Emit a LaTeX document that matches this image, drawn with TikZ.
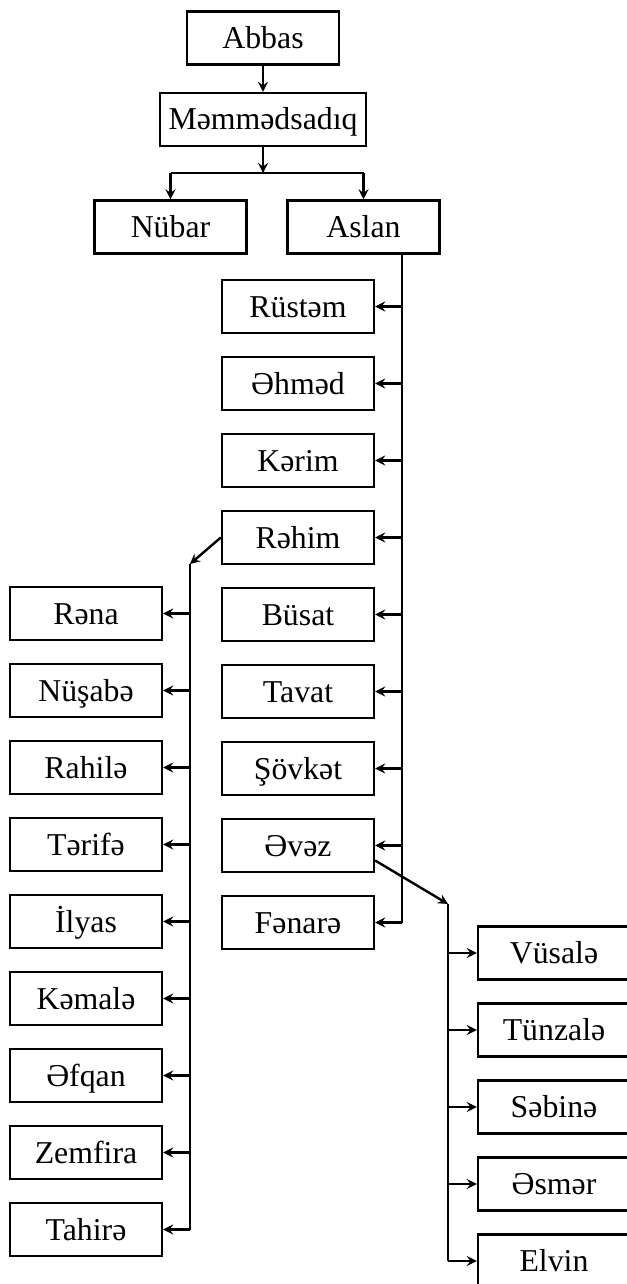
\documentclass[tikz,border=0pt]{standalone}
\usepackage{fontspec}
\setmainfont{Liberation Serif}

\begin{document}
\begin{tikzpicture}[>=stealth, x=0.5pt, y=-0.5pt, line width=1.2pt,
  person/.style={draw, line width=1.2pt, minimum width=76pt, minimum height=26.5pt,
    inner sep=0pt, text height=10.5pt, text depth=0pt,
    font=\fontsize{15.9}{18}\selectfont}]
\useasboundingbox (0,0) rectangle (626,1284);
% top of the tree
\node[person] (abbas) at (263,38) {Abbas};
\node[person, minimum width=103pt] (mammad) at (263,119.5) {Məmmədsadıq};
\node[person] (nubar) at (170.5,227) {Nübar};
\node[person] (aslan) at (363.5,227) {Aslan};
\draw[->] (abbas) -- (mammad);
\coordinate (jm) at (263,173);
\draw[->] (mammad) -- (jm);
\draw (nubar.north |- jm) -- (aslan.north |- jm);
\draw[->] (nubar.north |- jm) -- (nubar.north);
\draw[->] (aslan.north |- jm) -- (aslan.north);
% children of Aslan
\node[person] (rustam) at (298,306.5) {Rüstəm};
\node[person] (ahmad) at (298,383.5) {Əhməd};
\node[person] (karim) at (298,460.5) {Kərim};
\node[person] (rahim) at (298,537.5) {Rəhim};
\node[person] (busat) at (298,614.5) {Büsat};
\node[person] (tavat) at (298,691.5) {Tavat};
\node[person] (sovkat) at (298,768.5) {Şövkət};
\node[person] (avaz) at (298,845.5) {Əvəz};
\node[person] (fanara) at (298,922.5) {Fənarə};
\coordinate (at) at (402,253);
\draw (at) -- (at |- fanara);
\foreach \n in {rustam,ahmad,karim,rahim,busat,tavat,sovkat,avaz,fanara}
  \draw[->] (at |- \n) -- (\n.east);
% children of Rahim
\node[person] (rana) at (86,613.5) {Rəna};
\node[person] (nusaba) at (86,690.5) {Nüşabə};
\node[person] (rahila) at (86,767.5) {Rahilə};
\node[person] (tarifa) at (86,844.5) {Tərifə};
\node[person] (ilyas) at (86,921.5) {İlyas};
\node[person] (kamala) at (86,998.5) {Kəmalə};
\node[person] (afqan) at (86,1075.5) {Əfqan};
\node[person] (zemfira) at (86,1152.5) {Zemfira};
\node[person] (tahira) at (86,1229.5) {Tahirə};
\coordinate (rh) at (190,564);
\draw[->] (rahim.west) -- (rh);
\draw (rh) -- (rh |- tahira);
\foreach \n in {rana,nusaba,rahila,tarifa,ilyas,kamala,afqan,zemfira,tahira}
  \draw[->] (rh |- \n) -- (\n.east);
% children of Avaz
\node[person] (vusala) at (554,953) {Vüsalə};
\node[person] (tunzala) at (554,1030) {Tünzalə};
\node[person] (sabina) at (554,1107) {Səbinə};
\node[person] (asmar) at (554,1184) {Əsmər};
\node[person] (elvin) at (554,1261) {Elvin};
\coordinate (av) at (448,904);
\draw[->] (avaz.-11) -- (av);
\draw (av) -- (av |- elvin);
\foreach \n in {vusala,tunzala,sabina,asmar,elvin}
  \draw[->] (av |- \n) -- (\n.west);
\end{tikzpicture}
\end{document}
